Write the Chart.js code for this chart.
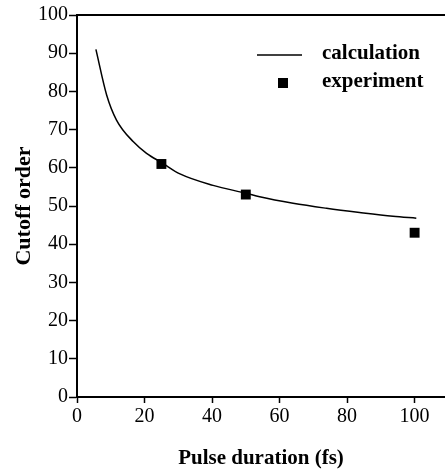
<html>
<head>
<script src="https://cdn.jsdelivr.net/npm/chart.js@4.4.1/dist/chart.umd.min.js"></script>
<style>
  body { margin: 0; background: #fff; }
  #wrap { width: 445px; height: 472px; }
</style>
</head>
<body>
<div id="wrap"><canvas id="myChart" width="445" height="472"></canvas></div>
<script>
// data
var calcX = [5.6, 8.8, 11.7, 16.7, 20.6, 25.2, 30.5, 40.3, 50.2, 54.1, 64, 73.9, 83.7, 93.6, 100.5];
var calcY = [91, 79, 72.5, 66.8, 63.8, 61.3, 58.4, 55.4, 53.3, 52.4, 50.7, 49.4, 48.3, 47.3, 46.8];
var expX = [25, 50, 100];
var expY = [61, 53, 43];
var xTicks = [0, 20, 40, 60, 80, 100];
var yTicks = [0, 10, 20, 30, 40, 50, 60, 70, 80, 90, 100];
var labels = ['calculation', 'experiment'];

var serif = "'Liberation Serif', 'Times New Roman', serif";

function pts(xs, ys) {
  var out = [];
  for (var i = 0; i < xs.length; i++) out.push({x: xs[i], y: ys[i]});
  return out;
}

// top border + legend drawn inside plot area
var extras = {
  id: 'extras',
  afterDraw: function(chart) {
    var ctx = chart.ctx, a = chart.chartArea;
    ctx.save();
    ctx.strokeStyle = '#000';
    ctx.lineWidth = 2;
    ctx.beginPath();
    ctx.moveTo(a.left, a.top);
    ctx.lineTo(a.right, a.top);
    ctx.stroke();

    ctx.font = 'bold 21px ' + serif;
    ctx.fillStyle = '#000';
    ctx.textBaseline = 'middle';
    // calculation
    ctx.lineWidth = 1.5;
    ctx.beginPath();
    ctx.moveTo(257, 55);
    ctx.lineTo(302, 55);
    ctx.stroke();
    ctx.fillText(labels[0], 322, 54);
    // experiment
    ctx.fillRect(278, 78, 10, 10);
    ctx.fillText(labels[1], 322, 82);
    ctx.restore();
  }
};

var ctx = document.getElementById('myChart').getContext('2d');
var myChart = new Chart(ctx, {
  type: 'scatter',
  data: {
    datasets: [{
      label: labels[0],
      data: pts(calcX, calcY),
      showLine: true,
      borderColor: '#000',
      borderWidth: 1.5,
      pointRadius: 0,
      cubicInterpolationMode: 'monotone'
    }, {
      label: labels[1],
      data: pts(expX, expY),
      showLine: false,
      pointStyle: 'rect',
      pointRadius: 7,
      backgroundColor: '#000',
      borderColor: '#000',
      borderWidth: 0
    }]
  },
  options: {
    responsive: false,
    animation: false,
    layout: { autoPadding: false, padding: { top: 15, right: 0, left: 0, bottom: 0 } },
    plugins: {
      legend: { display: false },
      tooltip: { enabled: false }
    },
    scales: {
      x: {
        type: 'linear',
        min: 0,
        max: 109,
        afterBuildTicks: function(s) { s.ticks = xTicks.map(function(v) { return {value: v}; }); },
        afterFit: function(s) { s.height = 75; s.paddingLeft = 0; s.paddingRight = 0; },
        grid: { drawOnChartArea: false, tickLength: 6, tickWidth: 1.5, color: '#000' },
        border: { color: '#000', width: 2 },
        ticks: { color: '#000', padding: 2, maxRotation: 0, font: { family: serif, size: 20 } },
        title: {
          display: true,
          text: 'Pulse duration (fs)',
          color: '#000',
          font: { family: serif, size: 21, weight: 'bold' },
          padding: { top: 0, bottom: 1 }
        }
      },
      y: {
        min: 0,
        max: 100,
        afterBuildTicks: function(s) { s.ticks = yTicks.map(function(v) { return {value: v}; }); },
        afterFit: function(s) { s.width = 77; s.paddingTop = 0; s.paddingBottom = 0; },
        grid: { drawOnChartArea: false, tickLength: 8, tickWidth: 1.5, color: '#000' },
        border: { color: '#000', width: 2 },
        ticks: { color: '#000', padding: 1, font: { family: serif, size: 20 } },
        title: {
          display: true,
          text: 'Cutoff order',
          color: '#000',
          font: { family: serif, size: 22, weight: 'bold' },
          padding: { top: 11, bottom: 0 }
        }
      }
    }
  },
  plugins: [extras]
});
</script>
</body>
</html>
